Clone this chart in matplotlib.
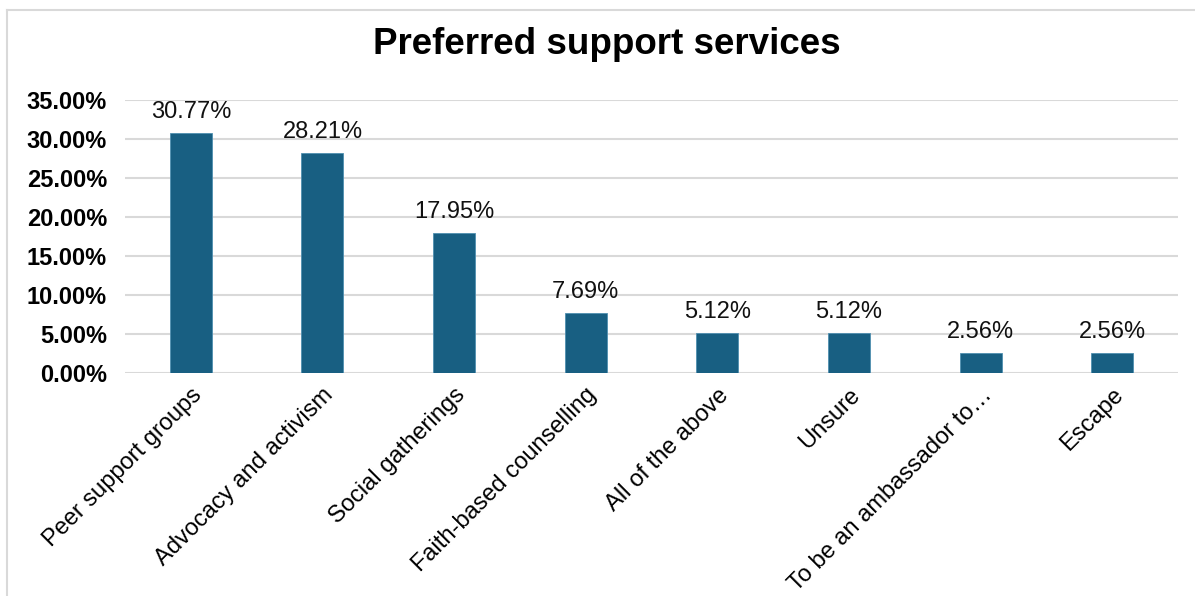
import matplotlib.pyplot as plt
from matplotlib.lines import Line2D

categories = ["Peer support groups", "Advocacy and activism", "Social gatherings",
              "Faith-based counselling", "All of the above", "Unsure",
              "To be an ambassador to\u2026", "Escape"]
values = [30.77, 28.21, 17.95, 7.69, 5.12, 5.12, 2.56, 2.56]
yticks = [0, 5, 10, 15, 20, 25, 30, 35]

plt.rcParams['font.family'] = ['Liberation Sans', 'DejaVu Sans']

fig = plt.figure(figsize=(11.95, 5.96), dpi=100)
ax = fig.add_axes([125/1195, 1 - 373/596, (1178-125)/1195, (373-100)/596])

x = range(len(categories))
bars = ax.bar(x, values, width=0.32, color='#185f82', edgecolor='#4f8fb0', linewidth=0.6, zorder=3)
for xi, v in zip(x, values):
    ax.text(xi, v + 1.3, f"{v:.2f}%", ha='center', va='bottom', fontsize=17, color='#111111')

ax.set_xlim(-0.5, len(categories) - 0.5)
ax.set_ylim(0, 35)
ax.set_yticks(yticks)
ax.set_yticklabels([f"{t:.2f}%" for t in yticks], fontsize=17, fontweight='bold')
ax.grid(axis='y', color='#d9d9d9', linewidth=1.5, zorder=0)
ax.set_xticks(list(x))
ax.set_xticklabels(categories, rotation=45, ha='right', rotation_mode='anchor', fontsize=17)
ax.tick_params(axis='both', length=0)
ax.tick_params(axis='x', pad=8)
ax.tick_params(axis='y', pad=13)
for s in ax.spines.values():
    s.set_visible(False)

fig.text(607/1195, 1 - 45/596, "Preferred support services", ha='center', va='center',
         fontsize=26.5, fontweight='bold')

# outer frame
fig.add_artist(Line2D([7/1195, 7/1195], [0, 1 - 10/596], color='#d9d9d9', linewidth=1.5,
                      transform=fig.transFigure))
fig.add_artist(Line2D([7/1195, 1], [1 - 10/596, 1 - 10/596], color='#d9d9d9', linewidth=1.5,
                      transform=fig.transFigure))

fig.savefig("out.png", dpi=100)
